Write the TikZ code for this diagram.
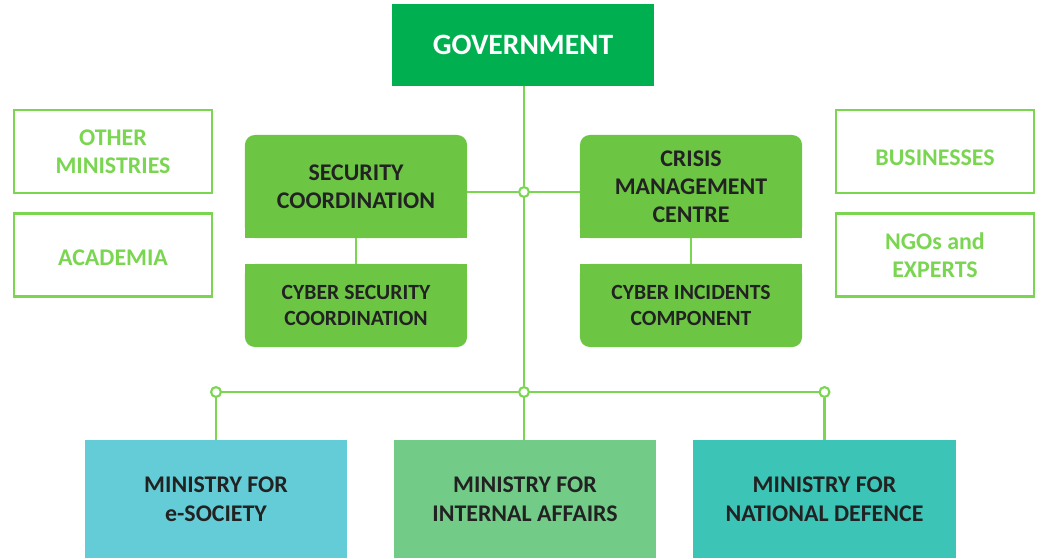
\documentclass[tikz,border=0pt]{standalone}
\usepackage{fontspec}
\setmainfont{Carlito}
\usetikzlibrary{backgrounds}
\definecolor{govgreen}{HTML}{00B050}
\definecolor{boxgreen}{HTML}{6CC644}
\definecolor{linegreen}{HTML}{7AD651}
\definecolor{societyblue}{HTML}{63CCD6}
\definecolor{affairsgreen}{HTML}{72CC88}
\definecolor{defenceteal}{HTML}{3CC4B7}
\definecolor{darktext}{HTML}{222222}
\tikzset{link/.style={draw=linegreen, line width=1.8pt}}
\tikzset{dot/.style={circle, draw=linegreen, fill=white, line width=1.5pt, inner sep=0pt, minimum size=7pt}}
\tikzset{unitbox/.style={fill=boxgreen, rounded corners=7pt, text=darktext, align=center, inner sep=0pt, minimum width=5.55cm, font=\bfseries\fontsize{17}{20}\selectfont}}
\tikzset{partner/.style={draw=linegreen, line width=1.6pt, text=linegreen, align=center, inner sep=0pt, minimum width=4.95cm, minimum height=2.075cm, font=\bfseries\fontsize{17}{20}\selectfont}}
\tikzset{ministry/.style={fill=#1, text=darktext, align=center, inner sep=0pt, minimum width=6.55cm, minimum height=2.95cm, font=\bfseries\fontsize{17}{20.5}\selectfont}}

\begin{document}
\begin{tikzpicture}[x=0.025cm, y=-0.025cm]
    \useasboundingbox (0, 0) rectangle (1043, 558);
    \node[fill=govgreen, text=white, minimum width=6.55cm, minimum height=2.05cm, font=\bfseries\fontsize{21}{24}\selectfont] (gov) at (523, 45) {GOVERNMENT};

    \node[unitbox, minimum height=2.575cm] (sec) at (356, 186.5) {SECURITY\\COORDINATION};
    \node[unitbox, minimum height=2.075cm, font=\bfseries\fontsize{15.4}{18.4}\selectfont] (cybsec) at (356, 305.5) {CYBER SECURITY\\COORDINATION};
    \node[unitbox, minimum height=2.575cm] (crisis) at (691, 186.5) {CRISIS\\MANAGEMENT\\CENTRE};
    \node[unitbox, minimum height=2.075cm, font=\bfseries\fontsize{15.4}{18.4}\selectfont] (cybinc) at (691, 305.5) {CYBER INCIDENTS\\COMPONENT};
    \begin{scope}[on background layer]
        \fill[boxgreen] (sec.west) rectangle (sec.south east);
        \fill[boxgreen] (crisis.west) rectangle (crisis.south east);
        \fill[boxgreen] (cybsec.north west) rectangle (cybsec.east);
        \fill[boxgreen] (cybinc.north west) rectangle (cybinc.east);
    \end{scope}

    \node[partner] (other) at (113, 151.5) {OTHER\\MINISTRIES};
    \node[partner] (acad) at (113, 255) {\raisebox{-2.1pt}[\height][\depth]{ACADEMIA}};
    \node[partner] (biz) at (935, 151.5) {\raisebox{-4.2pt}[\height][\depth]{BUSINESSES}};
    \node[partner] (ngo) at (935, 255) {NGOs and\\EXPERTS};

    \node[ministry=societyblue] (esoc) at (216, 499) {MINISTRY FOR\\e-SOCIETY};
    \node[ministry=affairsgreen] (intaff) at (525, 499) {MINISTRY FOR\\INTERNAL AFFAIRS};
    \node[ministry=defenceteal] (natdef) at (824.5, 499) {MINISTRY FOR\\NATIONAL DEFENCE};

    \node[dot] (hub) at (524, 192) {};
    \node[dot] (bus) at (524, 392) {};
    \node[dot] (busl) at (216, 392) {};
    \node[dot] (busr) at (824.5, 392) {};

    \draw[link] (gov.south -| hub) -- (hub);
    \draw[link] (hub) -- (bus);
    \draw[link] (sec.east |- hub) -- (hub);
    \draw[link] (hub) -- (crisis.west |- hub);
    \draw[link] (sec) -- (cybsec);
    \draw[link] (crisis) -- (cybinc);
    \draw[link] (busl) -- (bus);
    \draw[link] (bus) -- (busr);
    \draw[link] (busl) -- (esoc);
    \draw[link] (bus) -- (intaff.north -| bus);
    \draw[link] (busr) -- (natdef);
\end{tikzpicture}
\end{document}
